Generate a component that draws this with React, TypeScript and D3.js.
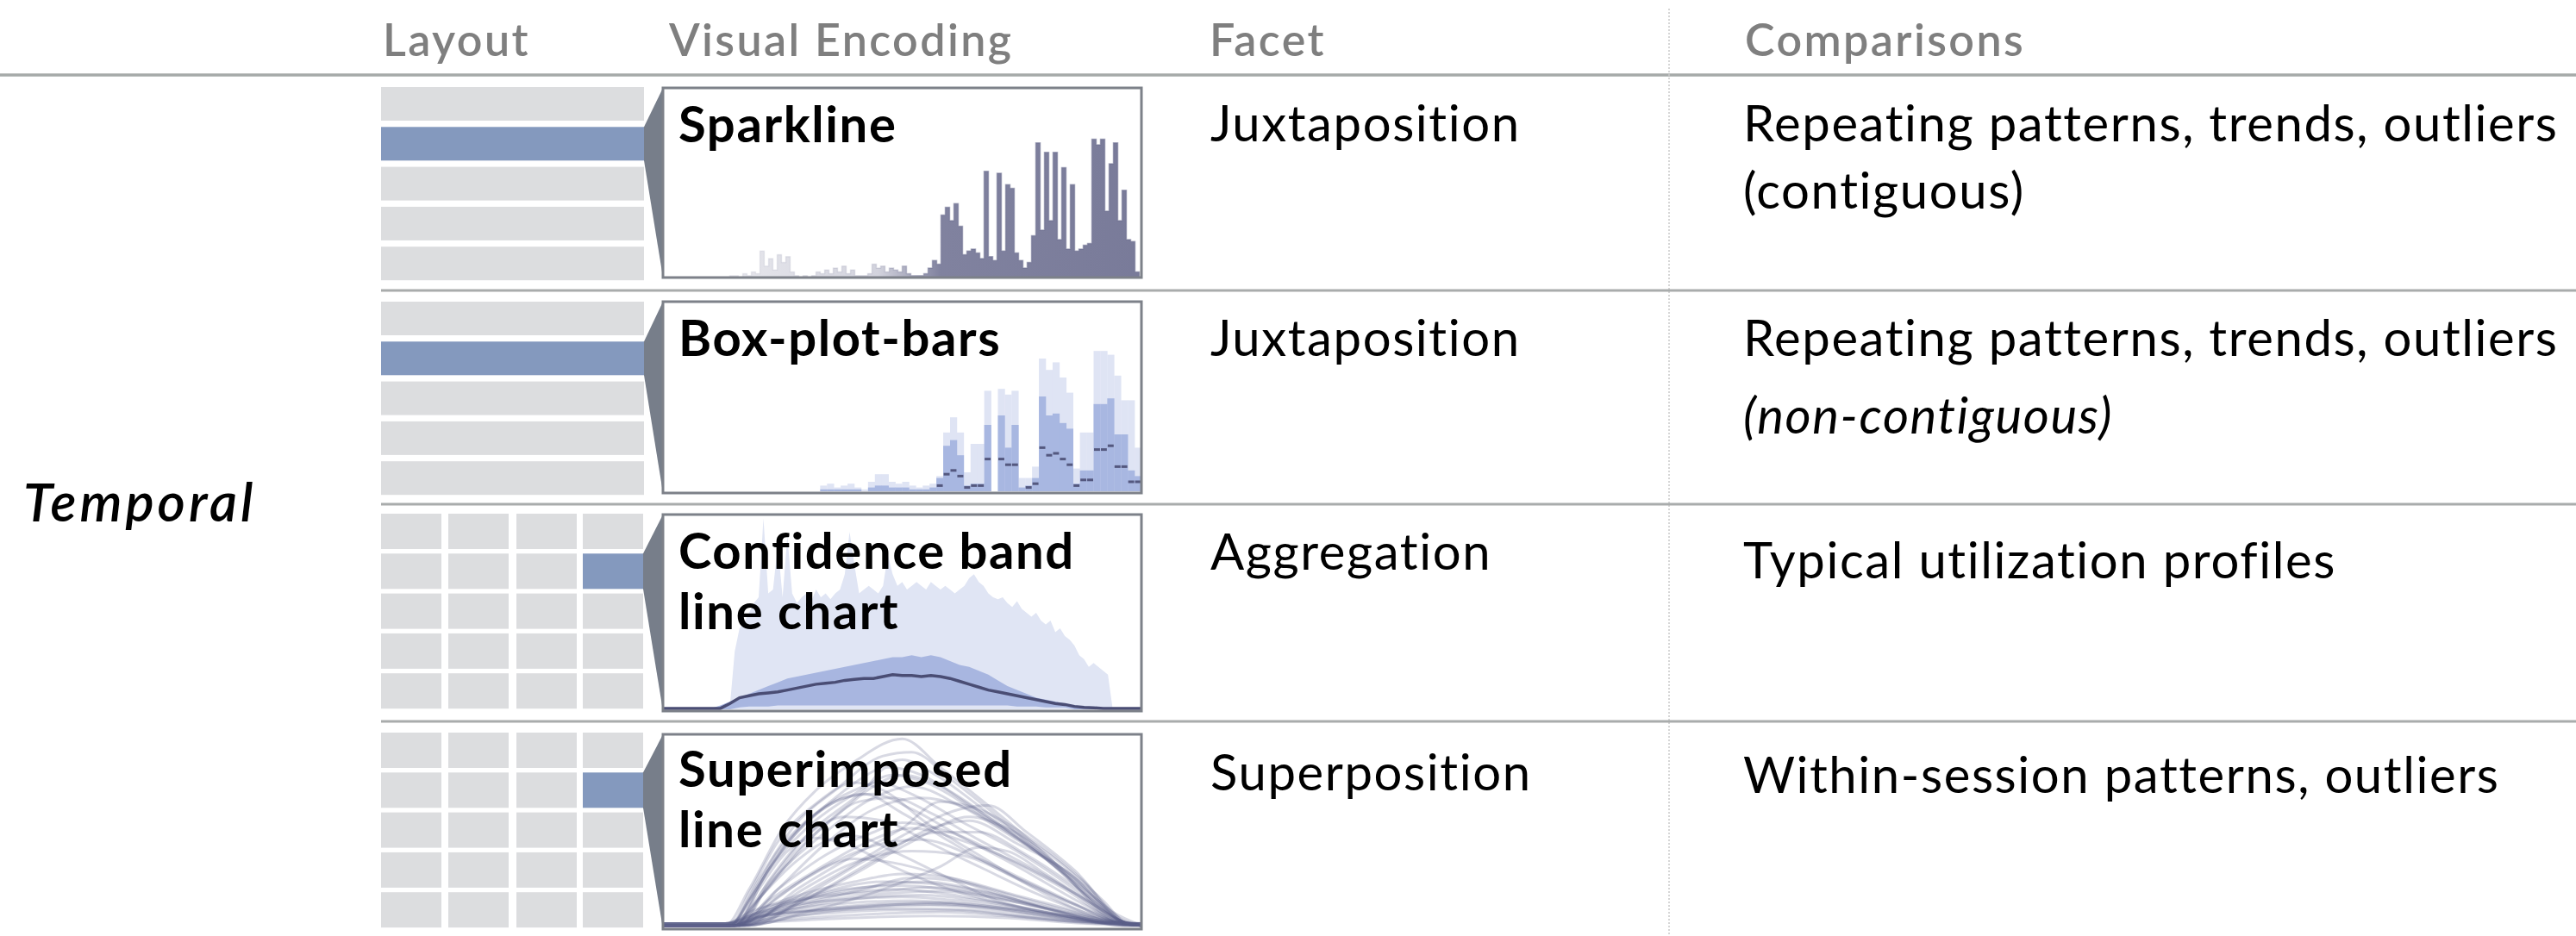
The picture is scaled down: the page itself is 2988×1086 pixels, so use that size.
import React from 'react';
import * as d3 from 'd3';

// column headers and row texts
const headers = ['Layout', 'Visual Encoding', 'Facet', 'Comparisons'];
const titles = [['Sparkline'], ['Box-plot-bars'], ['Confidence band', 'line chart'], ['Superimposed', 'line chart']];
const facets = ['Juxtaposition', 'Juxtaposition', 'Aggregation', 'Superposition'];
const comparisons = [
    ['Repeating patterns, trends, outliers', '(contiguous)'],
    ['Repeating patterns, trends, outliers', '(non-contiguous)'],
    ['Typical utilization profiles'],
    ['Within-session patterns, outliers'],
];
const groupLabel = 'Temporal';

// sparkline: utilization per time step (0-100)
const sparkValues = [
    0, 0, 0, 0, 0, 0, 0, 0, 0, 0, 0, 0, 0, 0, 0, 0, 1, 1, 0, 2,
    1, 3, 2, 14, 6, 10, 4, 12, 8, 11, 3, 1, 0, 1, 0, 1, 3, 2, 4, 2,
    5, 3, 6, 2, 4, 1, 1, 1, 2, 7, 5, 6, 3, 5, 4, 3, 6, 2, 1, 1,
    1, 2, 5, 9, 7, 33, 37, 30, 39, 27, 12, 14, 15, 13, 10, 56, 11, 9, 55, 14,
    49, 47, 13, 9, 5, 8, 22, 71, 25, 66, 30, 66, 20, 58, 15, 49, 14, 15, 17, 18,
    73, 70, 73, 35, 60, 71, 30, 46, 20, 19, 3, 0,
];

// box-plot-bars: per time bin max, upper quartile, median
const boxMax = [
    0, 0, 0, 0, 0, 0, 0, 0, 0, 0, 0, 0, 0, 0, 0, 0, 0, 0, 0, 0,
    0, 0, 0, 3, 4, 2, 3, 4, 2, 1, 5, 9, 9, 5, 4, 5, 3, 2, 3, 4,
    8, 31, 39, 31, 10, 25, 25, 53, 0, 54, 51, 53, 7, 7, 13, 70, 64, 68, 60, 52,
    12, 31, 31, 74, 74, 72, 61, 48, 48, 23,
];
const boxQ3 = [
    0, 0, 0, 0, 0, 0, 0, 0, 0, 0, 0, 0, 0, 0, 0, 0, 0, 0, 0, 0,
    0, 0, 0, 1, 1, 1, 1, 1, 1, 0, 2, 3, 3, 2, 2, 2, 1, 1, 1, 2,
    7, 24, 27, 19, 3, 4, 4, 35, 0, 40, 23, 35, 2, 3, 7, 50, 40, 41, 36, 33,
    4, 11, 11, 46, 46, 49, 30, 30, 11, 8,
];
const boxMedian = [
    0, 0, 0, 0, 0, 0, 0, 0, 0, 0, 0, 0, 0, 0, 0, 0, 0, 0, 0, 0,
    0, 0, 0, 1, 1, 0, 1, 1, 0, 0, 1, 1, 1, 1, 1, 1, 0, 0, 1, 1,
    3, 9, 11, 8, 2, 3, 3, 17, 0, 17, 14, 14, 1, 2, 4, 23, 19, 20, 17, 14,
    3, 6, 6, 22, 22, 24, 13, 13, 5, 5,
];

// confidence band: max per time step (t = 0..100)
const confMax = [
    0, 0, 0, 0, 0, 0, 0, 0, 0, 0, 0, 0, 0, 0, 2, 30, 42, 45, 50, 55,
    58, 99, 60, 62, 85, 58, 90, 60, 55, 58, 60, 56, 62, 58, 60, 57, 60, 62, 70, 92,
    75, 60, 62, 64, 62, 60, 64, 80, 70, 64, 66, 62, 64, 66, 64, 62, 66, 64, 62, 64,
    62, 60, 62, 64, 68, 70, 66, 64, 60, 58, 57, 58, 55, 53, 56, 52, 50, 48, 50, 46,
    44, 46, 40, 42, 38, 36, 33, 28, 26, 22, 24, 22, 20, 18, 0, 0, 0, 0, 0, 0, 0,
];
// quartiles and median every 2 time steps
const confQ3 = [
    0, 0, 0, 0, 0, 0.5, 2, 4, 6, 8, 10, 12, 14, 16, 17, 18, 19, 20, 21, 22,
    23, 24, 25, 26, 27, 27, 28, 27, 28, 27, 25, 23, 22, 20, 18, 15, 12, 10, 8, 6,
    5, 4, 3, 2, 1.5, 1, 0.5, 0, 0, 0, 0,
];
const confQ1 = [
    0, 0, 0, 0, 0, 0, 0, 0, 1, 1.5, 1.5, 1.5, 2, 2, 2, 2, 2, 2, 2, 2,
    2, 2, 2, 2, 2, 2, 2, 2, 2, 2, 2, 2, 2, 2, 2, 2, 2, 1.5, 1.5, 1.5,
    1, 1, 1, 0, 0, 0, 0, 0, 0, 0, 0,
];
const confMedian = [
    0.5, 0.5, 0.5, 0.5, 0.5, 0.5, 0.5, 3, 6, 7, 8, 8.5, 9, 10, 11, 12, 13, 13.5, 14, 15,
    15.5, 16, 16, 17, 18, 17.5, 17.5, 17, 17.5, 17, 16, 14.5, 13, 11.5, 10, 9, 8, 7, 6, 5,
    4, 3, 2.5, 1.5, 1, 0.8, 0.5, 0.5, 0.5, 0.5, 0.5,
];

// superimposed sessions: [time %, utilization %]
const sessions: [number, number][][] = [
    [[0, 1], [13, 1], [18, 20], [25, 52], [32, 72], [40, 87], [50, 99], [58, 84], [66, 68], [77, 45], [88, 20], [96, 3], [100, 1]],
    [[0, 1], [14, 1], [20, 25], [28, 55], [36, 72], [46, 90], [52, 92], [60, 78], [70, 58], [82, 32], [95, 4], [100, 1]],
    [[0, 1], [14, 1], [19, 18], [26, 45], [35, 66], [44, 82], [50, 88], [57, 80], [68, 60], [80, 38], [94, 5], [100, 1]],
    [[0, 1], [15, 1], [22, 30], [30, 52], [40, 70], [48, 80], [55, 76], [66, 60], [78, 40], [92, 10], [97, 2], [100, 1]],
    [[0, 1], [15, 1], [21, 20], [30, 48], [42, 72], [47, 84], [54, 80], [63, 66], [75, 46], [88, 22], [96, 3], [100, 1]],
    [[0, 1], [16, 1], [22, 22], [34, 50], [44, 68], [52, 74], [62, 64], [74, 46], [86, 26], [96, 3], [100, 1]],
    [[0, 1], [14, 1], [18, 15], [24, 40], [32, 60], [40, 72], [45, 76], [52, 70], [62, 56], [74, 40], [86, 20], [95, 3], [100, 1]],
    [[0, 1], [14, 1], [18, 18], [24, 45], [32, 65], [40, 76], [46, 72], [55, 55], [66, 38], [78, 20], [90, 6], [97, 2], [100, 1]],
    [[0, 1], [15, 1], [20, 22], [28, 50], [36, 66], [42, 70], [50, 60], [60, 45], [72, 28], [86, 12], [96, 2], [100, 1]],
    [[0, 1], [16, 1], [22, 24], [30, 48], [38, 58], [46, 56], [56, 44], [66, 32], [76, 20], [88, 8], [96, 2], [100, 1]],
    [[0, 1], [15, 1], [20, 15], [28, 35], [36, 47], [40, 48], [48, 40], [58, 28], [70, 14], [80, 8], [94, 2], [100, 1]],
    [[0, 1], [16, 1], [25, 12], [38, 30], [50, 48], [62, 62], [68, 64], [76, 50], [86, 30], [96, 4], [100, 1]],
    [[0, 1], [17, 1], [26, 10], [40, 28], [52, 45], [64, 58], [72, 52], [82, 36], [92, 14], [97, 2], [100, 1]],
    [[0, 1], [18, 1], [30, 15], [44, 35], [56, 52], [64, 56], [74, 44], [84, 30], [94, 8], [100, 1]],
    [[0, 1], [17, 1], [28, 20], [40, 38], [50, 52], [58, 66], [66, 62], [76, 48], [88, 24], [96, 3], [100, 1]],
    [[0, 1], [15, 1], [22, 14], [32, 30], [42, 44], [52, 52], [62, 46], [74, 34], [86, 18], [96, 2], [100, 1]],
    [[0, 1], [16, 1], [24, 16], [34, 32], [46, 44], [54, 46], [66, 36], [78, 22], [90, 8], [97, 1], [100, 1]],
    [[0, 1], [15, 1], [24, 20], [34, 38], [44, 50], [50, 55], [60, 50], [72, 36], [84, 20], [95, 3], [100, 1]],
    [[0, 1], [17, 1], [28, 18], [40, 34], [52, 40], [62, 38], [74, 26], [86, 12], [96, 2], [100, 1]],
    [[0, 1], [15, 1], [22, 12], [30, 26], [40, 36], [48, 34], [60, 26], [72, 16], [86, 6], [96, 1], [100, 1]],
    [[0, 2], [13, 2], [20, 8], [30, 15], [45, 22], [55, 24], [65, 20], [78, 12], [90, 5], [97, 2], [100, 2]],
    [[0, 2], [14, 2], [22, 7], [34, 14], [48, 18], [58, 19], [70, 15], [82, 9], [94, 3], [100, 2]],
    [[0, 1], [14, 1], [20, 5], [30, 11], [44, 16], [54, 17], [66, 14], [80, 8], [92, 3], [100, 1]],
    [[0, 1], [15, 1], [22, 8], [32, 14], [42, 20], [52, 26], [62, 24], [74, 16], [86, 8], [96, 2], [100, 1]],
    [[0, 2], [13, 2], [18, 6], [28, 10], [40, 13], [52, 14], [64, 12], [78, 8], [90, 4], [97, 2], [100, 2]],
    [[0, 1], [16, 1], [24, 6], [36, 10], [50, 12], [62, 11], [76, 7], [90, 3], [100, 1]],
    [[0, 2], [14, 2], [20, 4], [32, 7], [46, 9], [60, 9], [74, 6], [88, 3], [100, 2]],
    [[0, 1], [15, 1], [21, 10], [30, 18], [40, 24], [50, 28], [60, 26], [72, 18], [84, 10], [95, 2], [100, 1]],
    [[0, 2], [13, 2], [19, 9], [27, 14], [38, 18], [48, 20], [58, 18], [70, 13], [82, 7], [94, 2], [100, 2]],
    [[0, 1], [14, 1], [24, 3], [40, 5], [56, 6], [72, 5], [88, 2], [100, 1]],
    [[0, 2], [16, 2], [26, 12], [38, 20], [50, 22], [62, 19], [76, 12], [90, 4], [100, 2]],
    [[0, 1], [18, 1], [28, 6], [44, 11], [58, 13], [72, 10], [86, 5], [96, 1], [100, 1]],
    [[0, 1], [15, 1], [20, 20], [26, 40], [32, 47], [38, 44], [48, 32], [60, 20], [72, 12], [86, 5], [96, 1], [100, 1]],
    [[0, 1], [17, 1], [30, 8], [46, 20], [58, 32], [66, 42], [72, 40], [80, 28], [90, 12], [97, 2], [100, 1]],
    [[0, 1], [14, 1], [19, 12], [25, 30], [33, 52], [41, 66], [48, 68], [56, 60], [66, 46], [78, 30], [90, 12], [97, 2], [100, 1]],
    [[0, 1], [15, 1], [21, 18], [28, 40], [36, 58], [44, 74], [50, 80], [58, 74], [68, 58], [80, 36], [92, 12], [97, 2], [100, 1]],
    [[0, 2], [14, 2], [19, 7], [28, 12], [40, 15], [50, 16], [62, 14], [76, 9], [90, 3], [100, 2]],
    [[0, 1], [15, 1], [21, 6], [32, 9], [46, 11], [58, 12], [70, 10], [84, 5], [95, 2], [100, 1]],
    [[0, 2], [13, 2], [18, 5], [26, 8], [38, 11], [52, 13], [66, 11], [80, 6], [93, 2], [100, 2]],
    [[0, 1], [16, 1], [22, 9], [34, 16], [46, 19], [56, 21], [68, 17], [80, 10], [92, 3], [100, 1]],
    [[0, 2], [14, 2], [20, 3], [30, 5], [44, 7], [58, 8], [72, 6], [86, 3], [100, 2]],
    [[0, 1], [15, 1], [23, 11], [34, 19], [46, 24], [56, 23], [68, 18], [82, 9], [94, 2], [100, 1]],
    [[0, 2], [13, 2], [17, 4], [24, 7], [36, 9], [50, 10], [64, 9], [78, 5], [92, 2], [100, 2]],
    [[0, 1], [14, 1], [18, 14], [23, 34], [30, 55], [38, 68], [44, 70], [52, 62], [62, 48], [74, 32], [88, 12], [96, 2], [100, 1]],
    [[0, 1], [16, 1], [24, 20], [34, 44], [44, 62], [54, 68], [62, 64], [72, 50], [84, 28], [95, 4], [100, 1]],
    [[0, 1], [18, 1], [32, 20], [46, 40], [58, 50], [66, 50], [76, 38], [88, 18], [96, 3], [100, 1]],
];

const W = 2988;
const H = 1086;
const FONT = 'Lato, "Open Sans", sans-serif';

// geometry
const boxX0 = 769;
const boxX1 = 1324;
const boxes = [
    { y0: 102, y1: 322 },
    { y0: 350, y1: 572 },
    { y0: 597, y1: 825 },
    { y0: 852, y1: 1078 },
];
const layoutTop = [101, 350, 596, 850];
const separators = [337, 585, 837];
const titleBase = [165, 413, 660, 913];
const headerX = [444, 776, 1403, 2024];
const facetBase = [164, 413, 661, 917];
const compBase = [164, 413, 671, 920];
const colX = { layout: 442, encoding: 787, facet: 1404, comp: 2022 };

const GREY = '#dcdddf';
const BLUE = '#8499be';
const EDGE = '#777e8a';

const bodyStyle: React.CSSProperties = { letterSpacing: '1.6px', fontVariantLigatures: 'none' };

function Layout({ row }: { row: number }) {
    const top = layoutTop[row];
    const grid = row >= 2;
    const pitch = 46.3;
    const cellH = grid ? 41 : 39;
    const cols = grid ? [442, 520, 599, 676] : [442];
    const cw = grid ? 70 : 305;
    const cells: JSX.Element[] = [];
    for (let r = 0; r < 5; r++) {
        cols.forEach((cx, c) => {
            const sel = r === 1 && c === cols.length - 1;
            cells.push(<rect key={`${r}-${c}`} x={cx} y={top + r * pitch} width={cw} height={cellH} fill={sel ? BLUE : GREY} />);
        });
    }
    const selTop = top + pitch;
    const right = cols[cols.length - 1] + cw;
    const b = boxes[row];
    const poly = [[right, selTop], [boxX0, b.y0], [boxX0, b.y1], [right, selTop + cellH]];
    return (
        <g>
            {cells}
            <polygon points={poly.map(p => p.join(',')).join(' ')} fill={EDGE} />
        </g>
    );
}

function Sparkline() {
    const b = boxes[0];
    const x = d3.scaleLinear().domain([0, sparkValues.length - 1]).range([boxX0, boxX1]);
    const y = d3.scaleLinear().domain([0, 100]).range([b.y1, b.y0]);
    const area = d3.area<number>().x((_, i) => x(i)).y0(b.y1).y1(d => y(d)).curve(d3.curveStep);
    const line = d3.line<number>().x((_, i) => x(i)).y(d => y(d)).curve(d3.curveStep);
    return (
        <g clipPath="url(#clip0)">
            <path d={area(sparkValues)!} fill="url(#sparkGrad)" />
            <path d={line(sparkValues)!} fill="none" stroke="url(#sparkGrad)" strokeWidth={1.5} strokeOpacity={0.6} />
        </g>
    );
}

function BoxPlotBars() {
    const b = boxes[1];
    const base = b.y1 - 2;
    const x = d3.scaleLinear().domain([0, boxMax.length]).range([boxX0, boxX1]);
    const y = d3.scaleLinear().domain([0, 100]).range([base, b.y0]);
    const bw = x(1) - x(0);
    return (
        <g clipPath="url(#clip1)">
            {boxMax.map((v, i) => v > 0 && (
                <rect key={'l' + i} x={x(i)} y={y(v)} width={bw + 0.3} height={base - y(v)} fill="#dfe4f4" />
            ))}
            {boxQ3.map((v, i) => v > 0 && (
                <rect key={'m' + i} x={x(i)} y={y(v)} width={bw + 0.3} height={base - y(v)} fill="#a8b7e1" />
            ))}
            {boxMedian.map((v, i) => v >= 2 && (
                <rect key={'d' + i} x={x(i) + 0.5} y={y(v) - 1.5} width={bw - 1} height={3} fill="#45486d" opacity={0.85} />
            ))}
        </g>
    );
}

function ConfidenceBand() {
    const b = boxes[2];
    const x = d3.scaleLinear().domain([0, 100]).range([boxX0, boxX1]);
    const y = d3.scaleLinear().domain([0, 100]).range([b.y1 - 2, b.y0 + 2]);
    const outer = d3.area<number>().x((_, i) => x(i)).y0(y(0)).y1(d => y(d));
    const inner = d3.area<number>().x((_, i) => x(i * 2)).y0((_, i) => y(confQ1[i])).y1(d => y(d));
    const med = d3.line<number>().x((_, i) => x(i * 2)).y(d => y(d));
    return (
        <g clipPath="url(#clip2)">
            <path d={outer(confMax)!} fill="#e0e5f4" />
            <path d={inner(confQ3)!} fill="#a8b6e0" />
            <path d={med(confMedian)!} fill="none" stroke="#4a4d74" strokeWidth={3.5} />
        </g>
    );
}

function Superimposed() {
    const b = boxes[3];
    const x = d3.scaleLinear().domain([0, 100]).range([boxX0, boxX1]);
    const y = d3.scaleLinear().domain([0, 100]).range([b.y1 - 2, b.y0 + 3]);
    const line = d3.line<[number, number]>().x(d => x(d[0])).y(d => y(d[1])).curve(d3.curveMonotoneX);
    return (
        <g clipPath="url(#clip3)">
            {sessions.map((s, i) => (
                <path key={i} d={line(s)!} fill="none" stroke="#5d5f88" strokeOpacity={0.24} strokeWidth={3} />
            ))}
        </g>
    );
}

export default function App() {
    return (
        <svg width={W} height={H} style={{ position: 'absolute', left: 0, top: 0, display: 'block', background: '#fff' }} fontFamily={FONT}>
            <defs>
                <linearGradient id="sparkGrad" x1={boxX0} x2={boxX1} y1={0} y2={0} gradientUnits="userSpaceOnUse">
                    <stop offset="0" stopColor="#6a6c8e" stopOpacity={0.1} />
                    <stop offset="0.45" stopColor="#6a6c8e" stopOpacity={0.3} />
                    <stop offset="0.58" stopColor="#6a6c8e" stopOpacity={0.85} />
                    <stop offset="1" stopColor="#6a6c8e" stopOpacity={0.9} />
                </linearGradient>
                {boxes.map((b, i) => (
                    <clipPath id={`clip${i}`} key={i}>
                        <rect x={boxX0} y={b.y0} width={boxX1 - boxX0} height={b.y1 - b.y0} />
                    </clipPath>
                ))}
            </defs>

            {/* header */}
            {headers.map((h, i) => (
                <text key={h} x={headerX[i]} y={65} fontSize={52} fontWeight={600} fill="#7f7f7f"
                    style={{ letterSpacing: '2.4px', fontVariantLigatures: 'none' }}>{h}</text>
            ))}
            <line x1={0} x2={W} y1={87} y2={87} stroke="#a6aaa9" strokeWidth={3.5} />
            <line x1={1936} x2={1936} y1={10} y2={H} stroke="#c9c9c9" strokeWidth={1.5} strokeDasharray="2,2" />
            {separators.map(s => (
                <line key={s} x1={colX.layout} x2={W} y1={s} y2={s} stroke="#a9acac" strokeWidth={3} />
            ))}

            <text x={27} y={605} fontSize={62} fontStyle="italic" fontWeight={600} fill="#000"
                style={{ letterSpacing: '4px' }}>{groupLabel}</text>

            {[0, 1, 2, 3].map(r => <Layout key={r} row={r} />)}

            <Sparkline />
            <BoxPlotBars />
            <ConfidenceBand />
            <Superimposed />

            {boxes.map((b, i) => (
                <rect key={i} x={boxX0} y={b.y0} width={boxX1 - boxX0} height={b.y1 - b.y0} fill="none" stroke="#7d8189" strokeWidth={3} />
            ))}

            {titles.map((t, i) => (
                <text key={i} x={colX.encoding} y={titleBase[i]} fontSize={58} fontWeight={700} fill="#000" style={bodyStyle}>
                    {t.map((l, j) => <tspan key={j} x={colX.encoding} y={titleBase[i] + j * 70}>{l}</tspan>)}
                </text>
            ))}

            {facets.map((f, i) => (
                <text key={i} x={colX.facet} y={facetBase[i]} fontSize={58} fill="#000" style={bodyStyle}>{f}</text>
            ))}

            {comparisons.map((c, i) => (
                <text key={i} x={colX.comp} y={compBase[i]} fontSize={58} fill="#000" style={bodyStyle}>
                    {c.map((l, j) => (
                        <tspan key={j} x={colX.comp} y={compBase[i] + j * (i === 1 ? 90 : 78)}
                            fontStyle={l.startsWith('(non') ? 'italic' : 'normal'}>{l}</tspan>
                    ))}
                </text>
            ))}
        </svg>
    );
}
